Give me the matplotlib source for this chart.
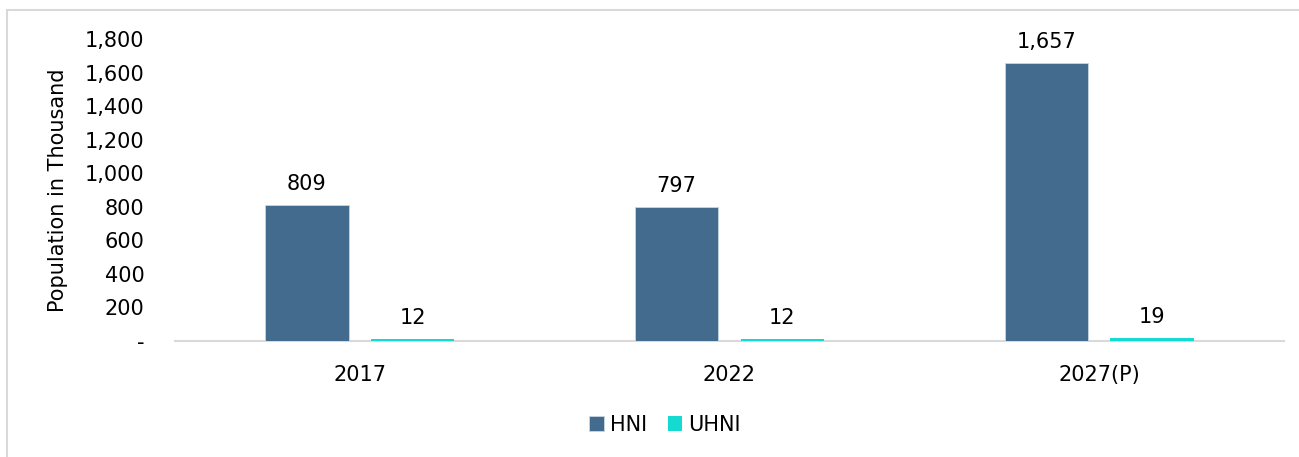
import numpy as np
import matplotlib.pyplot as plt
from matplotlib.patches import Rectangle

# data
years = ["2017", "2022", "2027(P)"]
hni = [809, 797, 1657]
uhni = [12, 12, 19]
y_ticks = [0, 200, 400, 600, 800, 1000, 1200, 1400, 1600, 1800]

c_hni = "#436b8e"
c_uhni = "#14dad2"

plt.rcParams['font.family'] = ['DejaVu Sans']

W, H = 1299, 457
fig = plt.figure(figsize=(W / 100, H / 100), dpi=100)

# outer frame, cut off at right and bottom like the screenshot
fig.patches.append(Rectangle((7 / W, -0.1), 1.2, 1 - 10 / H + 0.1,
                             transform=fig.transFigure, fill=False,
                             edgecolor="#d9d9d9", linewidth=1.5))

ax = fig.add_axes([175 / W, 1 - 341 / H, (1284 - 175) / W, (341 - 39) / H])

x = np.arange(len(years))
bw = 0.225
off = 0.143
b1 = ax.bar(x - off, hni, bw, color=c_hni, edgecolor="#c9d6e0", linewidth=0.6,
            label="HNI", zorder=3)
b2 = ax.bar(x + off, uhni, bw, color=c_uhni, label="UHNI", zorder=3)

for bars, vals in ((b1, hni), (b2, uhni)):
    for b, v in zip(bars, vals):
        ax.annotate(f"{v:,}", (b.get_x() + b.get_width() / 2, v),
                    xytext=(0, 8), textcoords="offset points",
                    ha="center", va="bottom", fontsize=15)

ax.set_xlim(-0.5, len(years) - 0.5)
ax.set_ylim(0, 1800)
ax.set_yticks(y_ticks)
ax.set_yticklabels(["-" if t == 0 else f"{t:,}" for t in y_ticks], fontsize=15)
ax.set_xticks(x)
ax.set_xticklabels(years, fontsize=15)
ax.tick_params(axis="y", length=0, pad=22)
ax.tick_params(axis="x", length=0, pad=17)

for s in ("top", "right", "left"):
    ax.spines[s].set_visible(False)
ax.spines["bottom"].set_color("#d9d9d9")
ax.spines["bottom"].set_linewidth(1.5)
ax.spines["bottom"].set_zorder(1)

ax.set_ylabel("Population in Thousand", fontsize=15, labelpad=12)

fig.legend(handles=[b1, b2], loc="center", bbox_to_anchor=(665 / W, 1 - 425 / H),
           ncol=2, frameon=False, fontsize=15, handlelength=0.7, handleheight=0.7,
           handletextpad=0.3, columnspacing=1.0)

fig.savefig("out.png", dpi=100)
